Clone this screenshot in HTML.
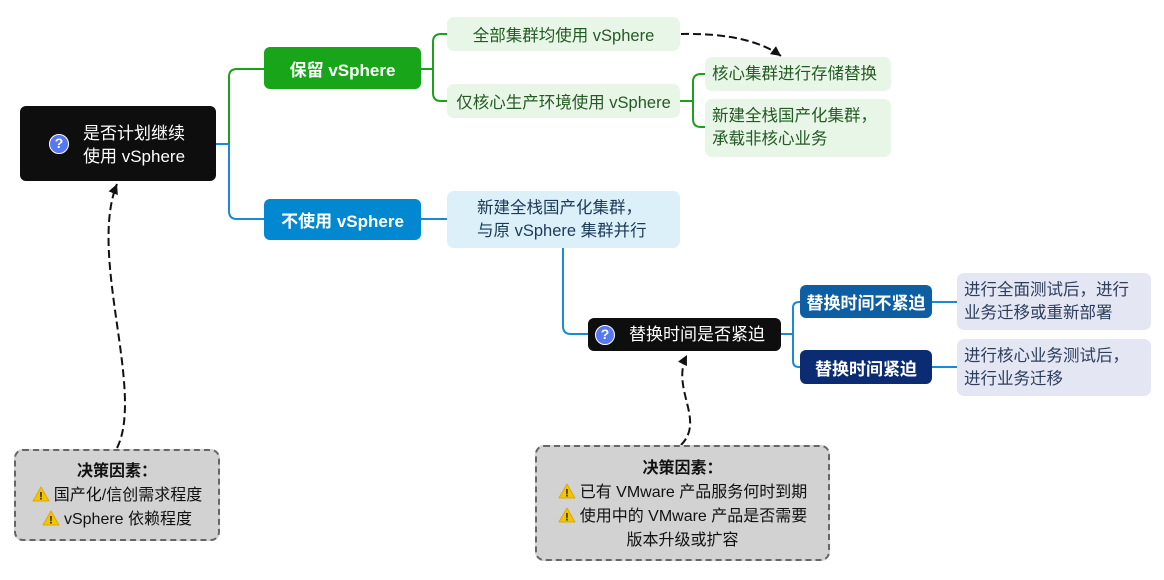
<!DOCTYPE html>
<html>
<head>
<meta charset="utf-8">
<style>
  html,body{margin:0;padding:0;background:#fff;}
  body{width:1164px;height:580px;position:relative;overflow:hidden;
    font-family:"Liberation Sans","Noto Sans CJK SC",sans-serif;}
  .b{position:absolute;box-sizing:border-box;}
  .dark{background:#0e0e0e;border-radius:6px;color:#fff;font-size:17px;}
  .pill{border-radius:6px;color:#fff;font-size:17px;display:flex;align-items:center;justify-content:center;font-weight:bold;}
  .lg{background:#e8f6e8;color:#245a24;border-radius:7px;font-size:16.5px;}
  .lb{background:#dcf0fa;color:#1b3a57;border-radius:7px;font-size:16.5px;}
  .lv{background:#e4e6f4;color:#2c3e5c;border-radius:7px;font-size:16.5px;}
  .c{display:flex;align-items:center;justify-content:center;}
  .q{position:absolute;width:20px;height:20px;border-radius:50%;background:#5877f2;border:1.5px solid #fff;box-sizing:border-box;color:#fff;font-weight:bold;font-size:14px;line-height:17px;text-align:center;font-family:"Liberation Sans",sans-serif;}
  .dec{background:#d2d2d2;border:2px dashed #666;border-radius:9px;color:#111;font-size:16px;text-align:center;line-height:24px;}
  .w{display:inline-block;width:18px;height:16px;vertical-align:-2px;margin-right:4px;}
</style>
</head>
<body>
<svg class="b" style="left:0;top:0" width="1164" height="580" viewBox="0 0 1164 580">
  <defs>
    <marker id="ah" markerUnits="userSpaceOnUse" markerWidth="12" markerHeight="12" refX="10" refY="5" orient="auto">
      <path d="M0,0 L10,5 L0,10 Z" fill="#111"/>
    </marker>
  </defs>
  <g fill="none" stroke-width="2">
    <path d="M216,144 H229 V211 Q229,219 237,219 H264" stroke="#1a8ad4"/>
    <path d="M229,144 V77 Q229,69 237,69 H264" stroke="#1aa31a"/>
    <path d="M421,69 H433" stroke="#1aa31a"/>
    <path d="M447,34 H441 Q433,34 433,42 V93 Q433,101 441,101 H447" stroke="#1aa31a"/>
    <path d="M680,101 H693" stroke="#1aa31a"/>
    <path d="M705,74 H701 Q693,74 693,82 V119 Q693,127 701,127 H705" stroke="#1aa31a"/>
    <path d="M421,219 H447" stroke="#1a8ad4"/>
    <path d="M563,248 V326 Q563,334 571,334 H588" stroke="#1a8ad4"/>
    <path d="M781,334 H793" stroke="#1a8ad4"/>
    <path d="M800,302 H799 Q793,302 793,308 V361 Q793,367 799,367 H800" stroke="#1a8ad4"/>
    <path d="M932,302 H957" stroke="#1a8ad4"/>
    <path d="M932,367 H957" stroke="#1a8ad4"/>
  </g>
  <g fill="none" stroke="#111" stroke-width="2" stroke-dasharray="8,4">
    <path d="M681,34 C730,33 762,42 781,56" marker-end="url(#ah)"/>
    <path d="M117,448 C145,392 88,255 117,184" marker-end="url(#ah)"/>
    <path d="M681,445 C706,420 670,388 687,355" marker-end="url(#ah)"/>
  </g>
</svg>

<!-- root -->
<div class="b dark" style="left:20px;top:106px;width:196px;height:75px;">
  <div class="q" style="left:29px;top:28px;">?</div>
  <div style="position:absolute;left:63px;top:16px;line-height:23px;">是否计划继续<br>使用 vSphere</div>
</div>

<div class="b pill" style="left:264px;top:47px;width:157px;height:42px;background:#19a519;">保留 vSphere</div>
<div class="b pill" style="left:264px;top:199px;width:157px;height:41px;background:#0288d1;">不使用 vSphere</div>

<div class="b lg c" style="left:447px;top:17px;width:233px;height:34px;">全部集群均使用 vSphere</div>
<div class="b lg c" style="left:447px;top:84px;width:233px;height:34px;">仅核心生产环境使用 vSphere</div>

<div class="b lg" style="left:705px;top:57px;width:186px;height:34px;line-height:34px;padding-left:7px;white-space:nowrap;">核心集群进行存储替换</div>
<div class="b lg" style="left:705px;top:99px;width:186px;height:58px;padding-left:7px;padding-top:6px;line-height:23px;white-space:nowrap;">新建全栈国产化集群，<br>承载非核心业务</div>

<div class="b lb" style="left:447px;top:191px;width:233px;height:57px;padding-left:30px;padding-top:6px;line-height:23px;white-space:nowrap;">新建全栈国产化集群，<br>与原 vSphere 集群并行</div>

<div class="b dark" style="left:588px;top:318px;width:193px;height:33px;">
  <div class="q" style="left:7px;top:7px;">?</div>
  <div style="position:absolute;left:41px;top:0;line-height:33px;white-space:nowrap;">替换时间是否紧迫</div>
</div>

<div class="b pill" style="left:800px;top:285px;width:132px;height:33px;background:#0d5ea3;">替换时间不紧迫</div>
<div class="b pill" style="left:800px;top:350px;width:132px;height:34px;background:#0b2c72;">替换时间紧迫</div>

<div class="b lv" style="left:957px;top:273px;width:194px;height:57px;padding-left:7px;padding-top:6px;line-height:23px;white-space:nowrap;">进行全面测试后，进行<br>业务迁移或重新部署</div>
<div class="b lv" style="left:957px;top:339px;width:194px;height:57px;padding-left:7px;padding-top:6px;line-height:23px;white-space:nowrap;">进行核心业务测试后，<br>进行业务迁移</div>

<!-- decision boxes -->
<div class="b dec" style="left:14px;top:449px;width:206px;height:92px;padding-top:9px;white-space:nowrap;">
  <b>决策因素：</b><br>
  <svg class="w" viewBox="0 0 18 16"><path d="M9,1 L17,15 L1,15 Z" fill="#f5c400" stroke="#e0a800" stroke-width="1" stroke-linejoin="round"/><text x="9" y="13.5" font-size="11" font-weight="bold" text-anchor="middle" fill="#222" font-family="Liberation Sans">!</text></svg>国产化/信创需求程度<br>
  <svg class="w" viewBox="0 0 18 16"><path d="M9,1 L17,15 L1,15 Z" fill="#f5c400" stroke="#e0a800" stroke-width="1" stroke-linejoin="round"/><text x="9" y="13.5" font-size="11" font-weight="bold" text-anchor="middle" fill="#222" font-family="Liberation Sans">!</text></svg>vSphere 依赖程度
</div>

<div class="b dec" style="left:535px;top:445px;width:295px;height:116px;padding-top:10px;white-space:nowrap;">
  <b>决策因素：</b><br>
  <svg class="w" viewBox="0 0 18 16"><path d="M9,1 L17,15 L1,15 Z" fill="#f5c400" stroke="#e0a800" stroke-width="1" stroke-linejoin="round"/><text x="9" y="13.5" font-size="11" font-weight="bold" text-anchor="middle" fill="#222" font-family="Liberation Sans">!</text></svg>已有 VMware 产品服务何时到期<br>
  <svg class="w" viewBox="0 0 18 16"><path d="M9,1 L17,15 L1,15 Z" fill="#f5c400" stroke="#e0a800" stroke-width="1" stroke-linejoin="round"/><text x="9" y="13.5" font-size="11" font-weight="bold" text-anchor="middle" fill="#222" font-family="Liberation Sans">!</text></svg>使用中的 VMware 产品是否需要<br>
  版本升级或扩容
</div>
</body>
</html>
